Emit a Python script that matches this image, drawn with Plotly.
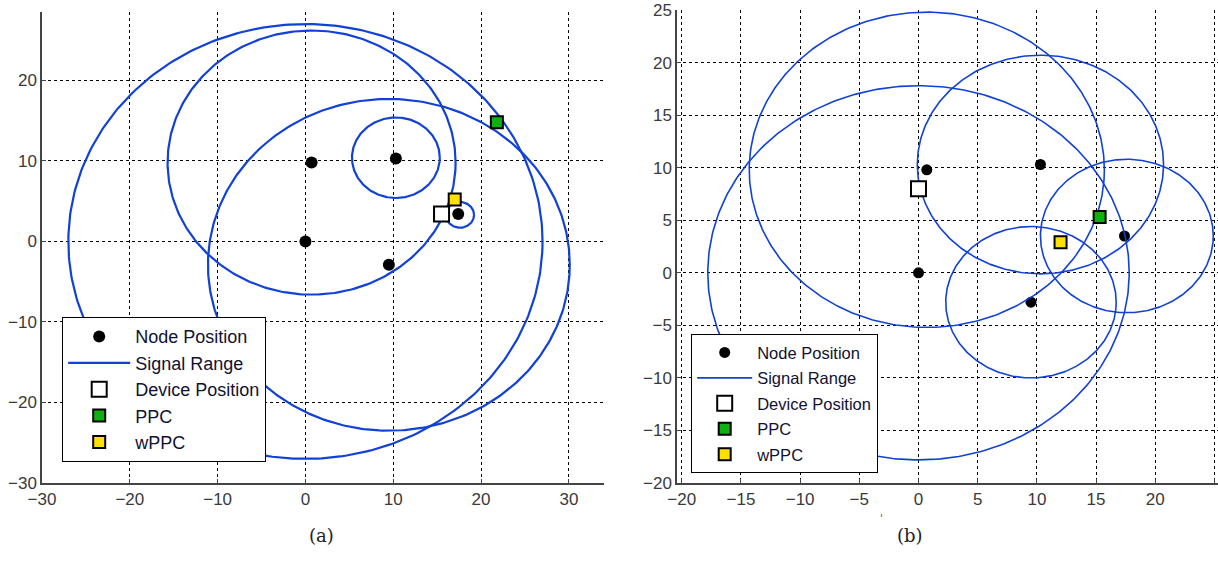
import numpy as np
import plotly.graph_objects as go

# ---------------- data: panel (a) ----------------
a_node_x = [0.0, 0.7, 10.3, 9.5, 17.4]
a_node_y = [0.0, 9.8, 10.3, -2.9, 3.4]
a_circ_cx = [0.0, 0.7, 10.3, 9.5, 17.6]
a_circ_cy = [0.0, 9.8, 10.4, -2.9, 3.3]
a_circ_r = [27.0, 16.4, 5.0, 20.6, 1.6]
a_device = (15.5, 3.4)
a_ppc = (21.8, 14.8)
a_wppc = (17.0, 5.2)
a_xticks = [-30, -20, -10, 0, 10, 20, 30]
a_yticks = [-30, -20, -10, 0, 10, 20]

# ---------------- data: panel (b) ----------------
b_node_x = [0.0, 0.7, 10.3, 9.5, 17.4]
b_node_y = [0.0, 9.8, 10.3, -2.8, 3.5]
b_circ_cx = [0.7, 10.3, 0.0, 9.5, 17.6]
b_circ_cy = [9.8, 10.3, 0.0, -2.8, 3.5]
b_circ_r = [15.0, 10.4, 17.8, 7.2, 7.3]
b_device = (0.0, 8.0)
b_ppc = (15.3, 5.3)
b_wppc = (12.0, 2.9)
b_xticks = [-20, -15, -10, -5, 0, 5, 10, 15, 20, 25]
b_yticks = [-20, -15, -10, -5, 0, 5, 10, 15, 20, 25]

legend_names = ["Node Position", "Signal Range", "Device Position", "PPC", "wPPC"]

BLUE = "#1241d6"
GREEN = "#10b010"
YELLOW = "#ffe000"

W, H = 1218, 562


def circle_xy(cx, cy, r):
    t = np.linspace(0, 2 * np.pi, 361)
    xs, ys = [], []
    for x0, y0, rr in zip(cx, cy, r):
        xs += list(x0 + rr * np.cos(t)) + [None]
        ys += list(y0 + rr * np.sin(t)) + [None]
    return xs, ys


fig = go.Figure()


def add_panel(xa, ya, leg, nx, ny, cx, cy, r, dev, ppc, wppc, lw, ms):
    xs, ys = circle_xy(cx, cy, r)
    fig.add_trace(go.Scatter(x=nx, y=ny, mode="markers", name=legend_names[0],
                             marker=dict(symbol="circle", size=ms, color="black"),
                             xaxis=xa, yaxis=ya, legend=leg, legendgroup=leg + "n"))
    fig.add_trace(go.Scatter(x=xs, y=ys, mode="lines", name=legend_names[1],
                             line=dict(color=BLUE, width=lw),
                             xaxis=xa, yaxis=ya, legend=leg, legendgroup=leg + "s"))
    fig.add_trace(go.Scatter(x=[dev[0]], y=[dev[1]], mode="markers", name=legend_names[2],
                             marker=dict(symbol="square", size=15, color="white",
                                         line=dict(color="black", width=2)),
                             xaxis=xa, yaxis=ya, legend=leg, legendgroup=leg + "d"))
    fig.add_trace(go.Scatter(x=[ppc[0]], y=[ppc[1]], mode="markers", name=legend_names[3],
                             marker=dict(symbol="square", size=12, color=GREEN,
                                         line=dict(color="black", width=2)),
                             xaxis=xa, yaxis=ya, legend=leg, legendgroup=leg + "p"))
    fig.add_trace(go.Scatter(x=[wppc[0]], y=[wppc[1]], mode="markers", name=legend_names[4],
                             marker=dict(symbol="square", size=12, color=YELLOW,
                                         line=dict(color="black", width=2)),
                             xaxis=xa, yaxis=ya, legend=leg, legendgroup=leg + "w"))


add_panel("x", "y", "legend", a_node_x, a_node_y, a_circ_cx, a_circ_cy, a_circ_r,
          a_device, a_ppc, a_wppc, 2.2, 12)
add_panel("x2", "y2", "legend2", b_node_x, b_node_y, b_circ_cx, b_circ_cy, b_circ_r,
          b_device, b_ppc, b_wppc, 1.6, 11)

ybot = (H - 483) / H

axis_common = dict(showgrid=True, gridcolor="black", griddash="3px,3px", gridwidth=1,
                   zeroline=False, showline=True, linecolor="#444", linewidth=1.5,
                   ticks="inside", ticklen=4, tickcolor="#444", automargin=False,
                   tickfont=dict(family="Liberation Sans Narrow, Liberation Sans", size=17,
                                 color="#3a3a3a"))

fig.update_layout(
    width=W, height=H,
    margin=dict(l=0, r=0, t=0, b=0, autoexpand=False),
    paper_bgcolor="white", plot_bgcolor="white",
    xaxis=dict(domain=[42 / W, 604 / W], range=[-30, 34], tickvals=a_xticks,
               anchor="y", **axis_common),
    yaxis=dict(domain=[ybot, (H - 12) / H], range=[-30, 28.5], tickvals=a_yticks,
               anchor="x", **axis_common),
    xaxis2=dict(domain=[677 / W, 1.0], range=[-20.4, 25.3], tickvals=b_xticks,
                anchor="y2", **axis_common),
    yaxis2=dict(domain=[ybot, (H - 10) / H], range=[-20, 25], tickvals=b_yticks,
                anchor="x2", **axis_common),
    legend=dict(x=62 / W, y=(H - 317) / H, xanchor="left", yanchor="top",
                bgcolor="white", bordercolor="black", borderwidth=1.2,
                font=dict(family="Liberation Sans Narrow, Liberation Sans", size=18,
                          color="#111133"),
                tracegroupgap=0, itemwidth=62),
    legend2=dict(x=691 / W, y=(H - 334) / H, xanchor="left", yanchor="top",
                 bgcolor="white", bordercolor="black", borderwidth=1.2,
                 font=dict(family="Liberation Sans Narrow, Liberation Sans", size=16.5,
                           color="#111133"),
                 tracegroupgap=1, itemwidth=55),
    showlegend=True,
    annotations=[
        dict(text="(a)", x=307 / W, y=(H - 548) / H, xref="paper", yref="paper",
             showarrow=False, font=dict(family="DejaVu Serif", size=18, color="#222")),
        dict(text="(b)", x=925 / W, y=(H - 548) / H, xref="paper", yref="paper",
             showarrow=False, font=dict(family="DejaVu Serif", size=18, color="#222")),
        dict(text="'", x=885 / W, y=(H - 526) / H, xref="paper", yref="paper",
             showarrow=False, font=dict(family="DejaVu Sans", size=10, color="#555")),
    ],
)

fig.write_html("out.html", config={"displayModeBar": False},
               post_script="document.body.style.margin='0';document.body.style.overflow='hidden';")
